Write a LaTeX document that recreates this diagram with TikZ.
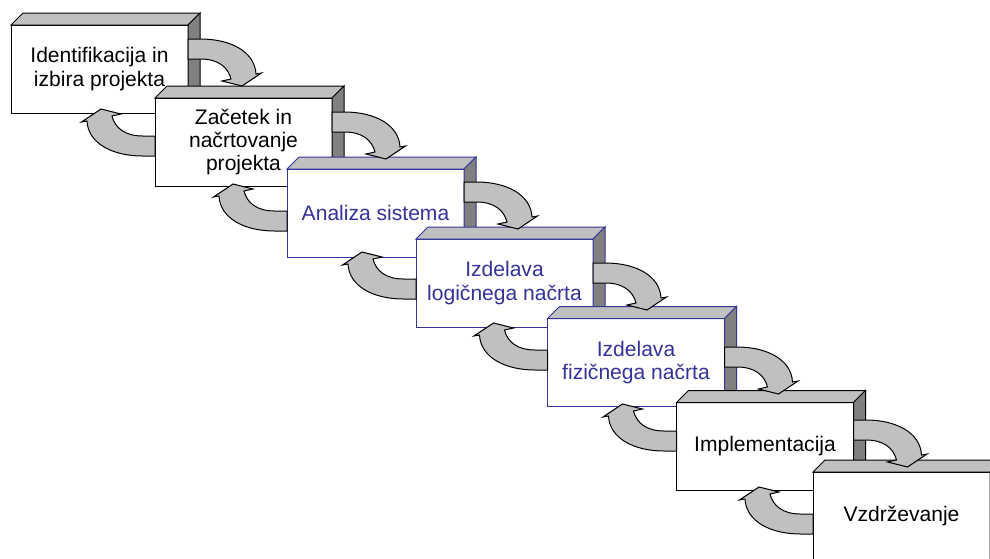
\documentclass[tikz,border=0pt]{standalone}
\usepackage{fontspec}
\setmainfont{Liberation Sans}

\definecolor{facetop}{HTML}{C0C0C0}
\definecolor{faceside}{HTML}{808080}
\definecolor{phaseblue}{RGB}{51,51,153}

\tikzset{
  stepbox/.style={draw=#1, text=#1, fill=white, line width=0.75pt,
    minimum width=132.75pt, minimum height=66pt, inner sep=0pt, outer sep=0pt,
    align=center, font=\fontsize{15.8pt}{17.6pt}\selectfont},
  stepbox/.default=black,
  topface/.style={draw=#1, fill=facetop, line width=0.75pt},
  sideface/.style={draw=#1, fill=faceside, line width=0.75pt},
  blockarrow/.style={draw=black, fill=facetop, line width=0.75pt},
  % curved block arrow, origin at the outer corner of its straight tail
  curvearrow/.pic={
    \draw[blockarrow] (0,0) -- (12.5,0)
      .. controls (43,0) and (67,13) .. (68,35)
      -- (73.5,34) -- (54,47) -- (34,42) -- (43,40)
      .. controls (40,28) and (30,20) .. (12.5,20)
      -- (0,20) -- cycle;
  }
}

% top and right faces of a solid step box
\newcommand\stepfaces[2]{%
  \filldraw[topface=#2] (#1.north west) -- ++(12,-12)
    -- ([shift={(12,-12)}]#1.north east) -- (#1.north east) -- cycle;
  \filldraw[sideface=#2] (#1.north east) -- ++(12,-12)
    -- ([shift={(12,-12)}]#1.south east) -- (#1.south east) -- cycle;
}

\begin{document}
\begin{tikzpicture}[x=0.75pt, y=-0.75pt]
  \useasboundingbox (0,0) rectangle (990,558);
  \clip (0,0) rectangle (990,558);

  % the seven phases, each drawn over the one before it
  \node[stepbox] (b1) at (99.5,69) {Identifikacija in\\izbira projekta};
  \stepfaces{b1}{black}
  \node[stepbox] (b2) at (243.5,142) {Začetek in\\načrtovanje\\projekta};
  \stepfaces{b2}{black}
  \node[stepbox=phaseblue] (b3) at (375.5,213) {Analiza sistema};
  \stepfaces{b3}{phaseblue}
  \node[stepbox=phaseblue] (b4) at (504.5,283) {Izdelava\\logičnega načrta};
  \stepfaces{b4}{phaseblue}
  \node[stepbox=phaseblue] (b5) at (636,362.5) {Izdelava\\fizičnega načrta};
  \stepfaces{b5}{phaseblue}
  \node[stepbox] (b6) at (765,446.5) {Implementacija};
  \stepfaces{b6}{black}
  \node[stepbox] (b7) at (901.5,516) {Vzdrževanje};
  \stepfaces{b7}{black}

  % forward arrows: from the side of a phase down onto the next one
  \pic at ([shift={(0,14)}]b1.north east) {curvearrow};
  \pic at ([shift={(0,14)}]b2.north east) {curvearrow};
  \pic at ([shift={(0,13)}]b3.north east) {curvearrow};
  \pic at ([shift={(0,24)}]b4.north east) {curvearrow};
  \pic at ([shift={(0,28.5)}]b5.north east) {curvearrow};
  \pic at ([shift={(0,17.5)}]b6.north east) {curvearrow};

  % backward arrows: from a phase back up to the previous one
  \pic[rotate=180] at ([shift={(0,58)}]b2.north west) {curvearrow};
  \pic[rotate=180] at ([shift={(0,62)}]b3.north west) {curvearrow};
  \pic[rotate=180] at ([shift={(0,60)}]b4.north west) {curvearrow};
  \pic[rotate=180] at ([shift={(0,51.5)}]b5.north west) {curvearrow};
  \pic[rotate=180] at ([shift={(0,48.5)}]b6.north west) {curvearrow};
  \pic[rotate=180] at ([shift={(0,62)}]b7.north west) {curvearrow};
\end{tikzpicture}
\end{document}
